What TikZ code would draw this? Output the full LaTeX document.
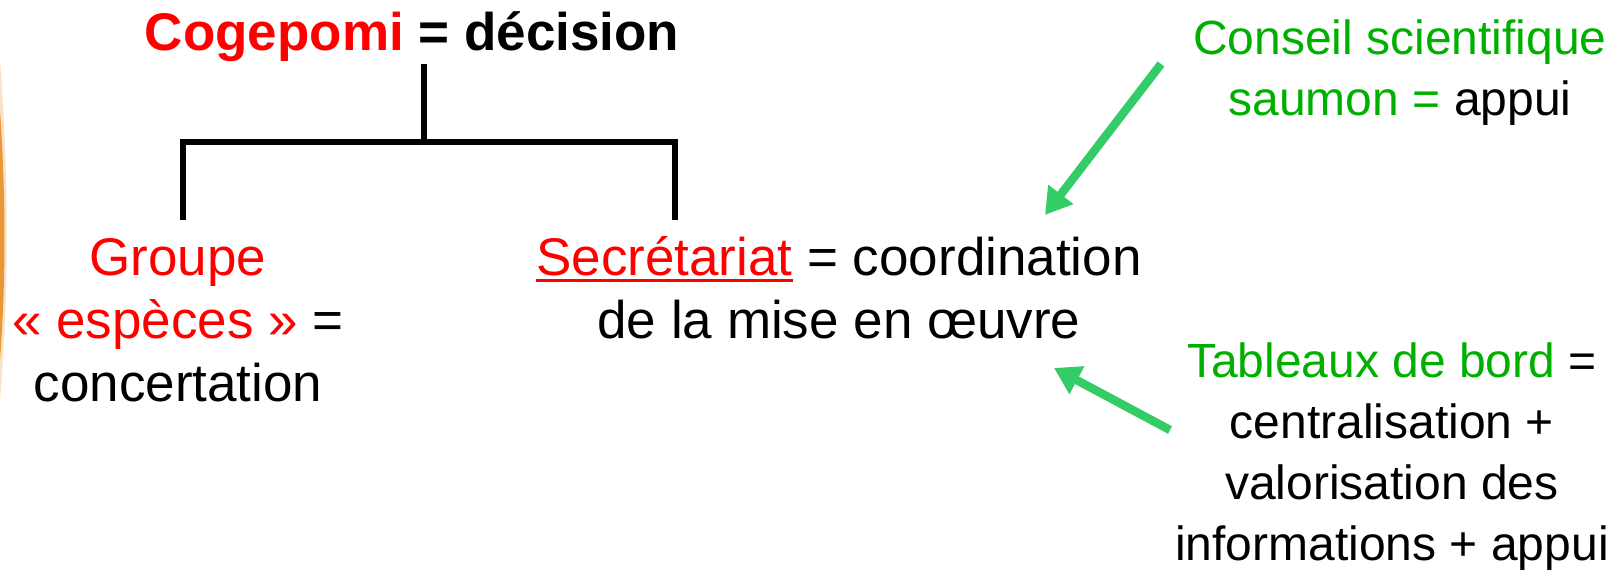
\documentclass[tikz,border=0pt]{standalone}
\usepackage{fontspec}
\setmainfont{Liberation Sans}
\usetikzlibrary{arrows.meta}
\definecolor{tred}{RGB}{255,0,0}
\definecolor{tgreen}{RGB}{0,176,0}
\definecolor{agreen}{RGB}{51,204,102}
\definecolor{glow}{RGB}{232,140,30}
\newcommand{\myul}[1]{{\setbox0\hbox{#1}\rlap{\raisebox{-7pt}{\rule{\wd0}{3pt}}}\box0}}
\tikzset{
  bigtxt/.style={font=\fontsize{53}{63}\selectfont, align=center, anchor=base, inner sep=0pt},
  smalltxt/.style={font=\fontsize{48}{61}\selectfont, align=center, anchor=base, inner sep=0pt},
  treeline/.style={line width=6.5pt, black},
  greenarrow/.style={line width=8.5pt, agreen, -{Triangle[length=26pt,width=30pt]}},
}
\begin{document}
\begin{tikzpicture}[x=1pt,y=-1pt]
\useasboundingbox (0,0) rectangle (1623,570);
% left orange glow
\fill[glow!25] (0,60) .. controls (9,180) and (9,290) .. (0,400) -- cycle;
\fill[glow!90] (0,110) .. controls (6,200) and (6,280) .. (0,360) -- cycle;
% title
\node[bigtxt, font=\fontsize{53}{63}\selectfont\bfseries] (title) at (412,50) {\textcolor{tred}{Cogepomi} = décision};
% tree
\coordinate (top) at (424,64);
\coordinate (mid) at (424,142);
\coordinate (lc) at (183,142);
\coordinate (rc) at (675,142);
\coordinate (ll) at (183,220);
\coordinate (rl) at (675,220);
\draw[treeline] (top) -- (mid);
\draw[treeline] (ll) -- (lc) -- (rc) -- (rl);
% left block (anchor = baseline of last line)
\node[bigtxt] (groupe) at (178,401) {\textcolor{tred}{Groupe}\\\textcolor{tred}{« espèces »} =\\concertation};
% middle block
\node[bigtxt] (secr) at (839,338) {\textcolor{tred}{\myul{Secrétariat}} = coordination\\de la mise en œuvre};
% top right
\node[smalltxt] (conseil) at (1400,115) {\textcolor{tgreen}{Conseil scientifique}\\\textcolor{tgreen}{saumon =} appui};
% bottom right
\node[smalltxt] (tableaux) at (1392,560) {\textcolor{tgreen}{Tableaux de bord} =\\centralisation +\\valorisation des\\informations + appui};
% arrows
\coordinate (a1s) at (1161,64);
\coordinate (a1e) at (1045,215);
\coordinate (a2s) at (1170,430);
\coordinate (a2e) at (1054,368);
\draw[greenarrow] (a1s) -- (a1e);
\draw[greenarrow] (a2s) -- (a2e);
\end{tikzpicture}
\end{document}
